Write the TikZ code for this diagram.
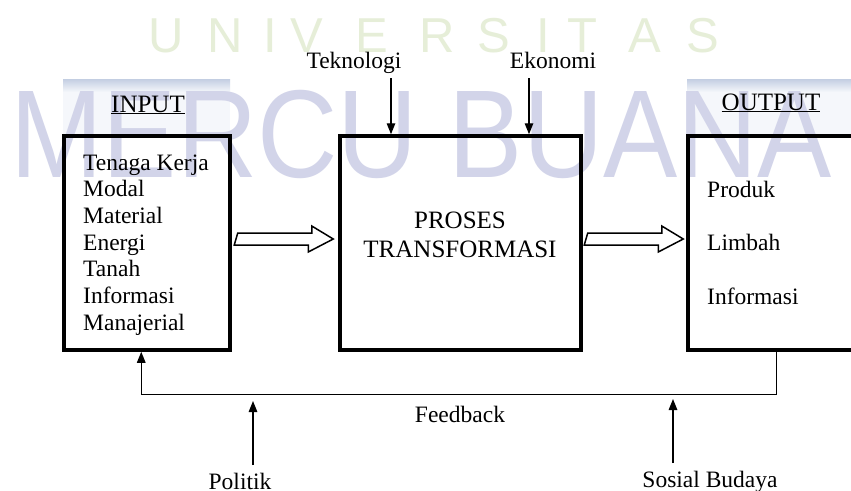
\documentclass[tikz,border=0pt]{standalone}
\usepackage{fontspec}
\setmainfont{Liberation Serif}
\newfontfamily\wmfont{Liberation Sans}
\usetikzlibrary{calc,arrows.meta}
\definecolor{wmgreen}{HTML}{E6EED8}
\definecolor{wmblue}{HTML}{D2D4E9}
\definecolor{bannertop}{HTML}{C3CEE2}
\definecolor{bannerfill}{HTML}{F5F7FB}
\begin{document}
\begin{tikzpicture}[x=1pt,y=-1pt,
  sysbox/.style={draw, line width=3.5pt, inner sep=0pt, minimum height=214pt},
  lbl/.style={inner sep=0pt, font=\fontsize{23.5}{28}\selectfont},
  bigl/.style={inner sep=0pt, font=\fontsize{25}{30}\selectfont},
  arr/.style={line width=1.4pt, -{Triangle[length=11pt,width=8.5pt]}},
  hollow/.style={draw, line width=1.5pt, fill=white, line join=miter},
  wmletter/.style={inner sep=0pt, anchor=base, text=wmgreen,
    font=\wmfont\fontsize{49}{49}\selectfont}]
\clip (0,0) rectangle (851,490);
\fill[white] (0,0) rectangle (851,490);

% header banners
\fill[bannerfill] (63,79) rectangle (230,134);
\shade[top color=bannertop, bottom color=bannerfill] (63,79) rectangle (230,92);
\fill[bannerfill] (687,79) rectangle (851,134);
\shade[top color=bannertop, bottom color=bannerfill] (687,79) rectangle (851,92);

% watermark
\node[anchor=base west, inner sep=0pt, text=wmblue,
  font=\wmfont\fontsize{125}{125}\selectfont] (wm) at (10,177)
  {\scalebox{0.89}[1]{MERCU BUANA}};
\foreach \ch/\cx [count=\k] in {U/166,N/225,I/270,V/307,E/372,R/437,S/494,I/543,T/582,A/645,S/703}
  \node[wmletter] (wl\k) at (\cx,52) {\ch};

% main boxes
\node[sysbox, minimum width=166pt] (in)  at (147,243) {};
\node[sysbox, minimum width=241pt] (pt)  at (460.5,243) {};
\node[sysbox, minimum width=192pt] (out) at (784,243) {};

% headers
\node[bigl, anchor=base] (inh)  at (148,112) {\underline{INPUT}};
\node[bigl, anchor=base] (outh) at (771,110) {\underline{OUTPUT}};

% input list
\foreach \t [count=\k] in {Tenaga Kerja, Modal, Material, Energi, Tanah, Informasi, Manajerial}
  \node[lbl, anchor=base west] (inl\k) at (83,143.3+26.7*\k) {\t};

% output list
\node[lbl, anchor=base west] (o1) at (707,197) {Produk};
\node[lbl, anchor=base west] (o2) at (707,250.5) {Limbah};
\node[lbl, anchor=base west] (o3) at (707,304) {Informasi};

% process text
\node[bigl, anchor=base] (p1) at (460,228) {PROSES};
\node[bigl, anchor=base] (p2) at (460,257) {TRANSFORMASI};

% block arrows between boxes
\draw[hollow] ($(in.east)+(6,-10)$) -- ++(74,0) -- ++(0,-7)
  -- ($(pt.west)+(-5,-4)$) -- ++(-25,13) -- ++(0,-7) -- ++(-74,0) -- cycle;
\draw[hollow] ($(pt.east)+(5,-10)$) -- ++(74,0) -- ++(0,-7)
  -- ($(out.west)+(-3,-4)$) -- ++(-25,13) -- ++(0,-7) -- ++(-74,0) -- cycle;

% environment influences from above
\node[lbl, anchor=base] (tek) at (354,68) {Teknologi};
\node[lbl, anchor=base] (eko) at (553,68) {Ekonomi};
\coordinate (tekA) at (391,78);
\coordinate (ekoA) at (529,78);
\draw[arr] (tekA) -- (tekA |- pt.north);
\draw[arr] (ekoA) -- (ekoA |- pt.north);

% feedback loop
\coordinate (fbOut) at ($(out.south west)+(90,0)$);
\coordinate (fbIn)  at ($(in.south west)+(79,0)$);
\draw[arr] (fbOut) -- ++(0,43) -| (fbIn);
\node[lbl, anchor=base] (fb) at (460,422) {Feedback};

% environment influences from below
\node[lbl, anchor=base] (pol) at (240,489) {Politik};
\node[lbl, anchor=base] (sos) at (710,487) {Sosial Budaya};
\coordinate (polA) at (253,465);
\coordinate (polB) at (253,401);
\coordinate (sosA) at (673,463);
\coordinate (sosB) at (673,399);
\draw[arr] (polA) -- (polB);
\draw[arr] (sosA) -- (sosB);
\end{tikzpicture}
\end{document}
